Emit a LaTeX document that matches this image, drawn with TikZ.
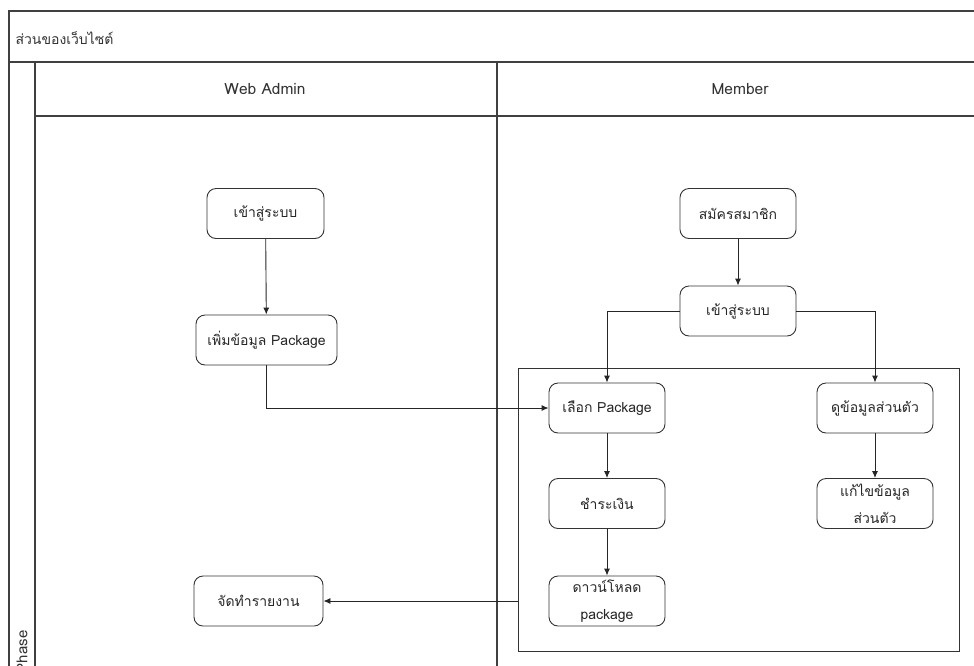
\documentclass[tikz,border=0pt]{standalone}
\usepackage{fontspec}
\setmainfont[Script=Thai]{Loma}
\usetikzlibrary{arrows.meta}
\begin{document}
\begin{tikzpicture}[x=1pt,y=-1pt,
  frame/.style={draw=black!75, line width=1.1pt},
  act/.style={draw=black!80, line width=0.9pt, rounded corners=9pt,
    minimum width=116pt, minimum height=50pt, inner sep=1pt,
    align=center, font=\fontsize{14}{27}\selectfont, text=black!85},
  flow/.style={draw=black!85, line width=0.9pt,
    -{Latex[length=7pt,width=6pt]}},
  lbl/.style={font=\fontsize{14}{16}\selectfont, text=black!80}]
\useasboundingbox (0,0) rectangle (974,665);
\clip (0,0) rectangle (974,665);

% pool frame, title row, phase column and lane headers
\draw[frame] (990,11) -- (9,11) -- (9,680);
\draw[frame] (9,62) -- (990,62);
\draw[frame] (35,62) -- (35,680);
\draw[frame] (35,116) -- (990,116);
\draw[frame] (497,62) -- (497,680);

\node[lbl, anchor=west] (pool) at (12,38) {ส่วนของเว็บไซต์};
\node[lbl, font=\fontsize{15.5}{18}\selectfont] (laneA) at (265,89) {Web Admin};
\node[lbl, font=\fontsize{15.5}{18}\selectfont] (laneM) at (740,89) {Member};
\node[lbl, rotate=90, anchor=east, font=\fontsize{15}{17}\selectfont] (phase) at (22,627) {Phase};

% group of member activities after logging in
\node[draw=black!80, line width=0.9pt, minimum width=441pt, minimum height=283pt,
  inner sep=0pt] (grp) at (738.5,509.5) {};

% Web Admin lane
\node[act, minimum width=117pt] (a1) at (265.5,213.5) {เข้าสู่ระบบ};
\node[act, minimum width=141pt] (a2) at (266.5,340) {เพิ่มข้อมูล Package};
\node[act, minimum width=129pt] (a3) at (258.5,601) {จัดทำรายงาน};

% Member lane
\node[act] (m1) at (738,213.5) {สมัครสมาชิก};
\node[act] (m2) at (738,311) {เข้าสู่ระบบ};
\node[act] (m3) at (607,408) {เลือก Package};
\node[act] (m4) at (875,408) {ดูข้อมูลส่วนตัว};
\node[act] (m5) at (607,503.5) {ชำระเงิน};
\node[act] (m6) at (875,503.5) {แก้ไขข้อมูล\\ส่วนตัว};
\node[act] (m7) at (607,601) {ดาวน์โหลด\\package};

% connectors
\draw[flow] (a1) -- (a2);
\draw[flow] (a2.south) |- (m3.west);
\draw[flow] (m1) -- (m2);
\draw[flow] (m2.west) -| (m3.north);
\draw[flow] (m2.east) -| (m4.north);
\draw[flow] (m3) -- (m5);
\draw[flow] (m5) -- (m7);
\draw[flow] (m4) -- (m6);
\draw[flow] (grp.west |- a3.east) -- (a3.east);
\end{tikzpicture}
\end{document}
